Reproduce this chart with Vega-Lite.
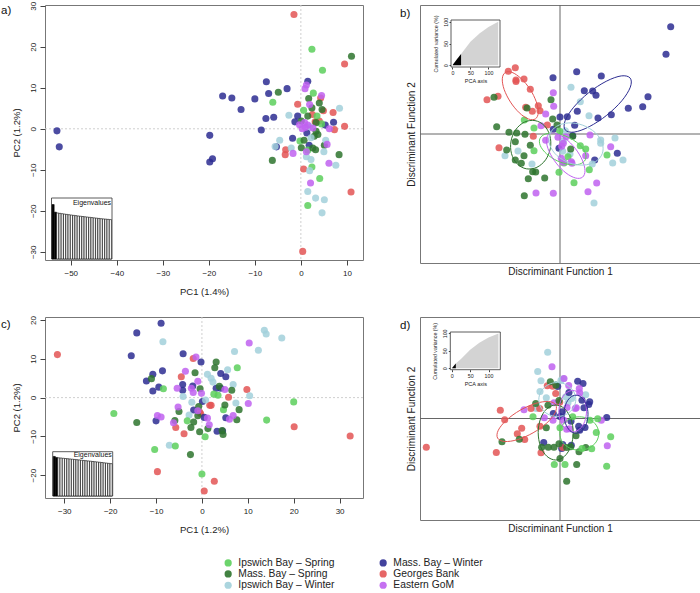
{
"$schema":"https://vega.github.io/schema/vega-lite/v6.json",
"background":"white",
"padding":{"left":0,"top":0,"right":0,"bottom":0},
"config":{
 "font":"Liberation Sans",
 "view":{"stroke":"#777","strokeWidth":1},
 "axis":{"domain":false,"grid":false,"labelFlush":false,"labelOverlap":false,"tickColor":"#444","labelColor":"#222","titleColor":"#222","titleFontWeight":"normal","labelFont":"Liberation Sans","titleFont":"Liberation Sans","minExtent":0},
 "axisY":{"minExtent":0},
 "title":{"font":"Liberation Sans","fontWeight":"normal"},
 "legend":{"orient":"none","legendX":178,"legendY":552.5,"columns":2,"symbolType":"circle","symbolSize":52,"symbolStrokeWidth":0,"symbolOpacity":0.9,"labelFontSize":10.3,"labelFont":"Liberation Sans","labelColor":"#222","labelOffset":5,"rowPadding":0.3,"columnPadding":43,"padding":0}
},
"datasets":{
 "ptsA":[
  {"g":"MBW","x":-53.0,"y":-0.5},{"g":"MBW","x":-52.5,"y":-4.4},{"g":"MBW","x":-19.8,"y":-1.6},{"g":"MBW","x":-19.8,"y":-8.1},{"g":"MBW","x":-19.2,"y":-7.3},{"g":"MBW","x":-17.0,"y":8.0},{"g":"MBW","x":-15.0,"y":7.5},{"g":"MBW","x":-13.0,"y":4.7},{"g":"MBW","x":-10.0,"y":7.3},{"g":"MBW","x":-7.5,"y":11.5},{"g":"MBW","x":-7.0,"y":8.6},{"g":"MBW","x":-3.0,"y":9.8},{"g":"MBW","x":-7.6,"y":2.5},{"g":"MBW","x":-5.9,"y":2.8},{"g":"MBW","x":-8.6,"y":-0.3},{"g":"MBW","x":-5.3,"y":-4.4},{"g":"MBW","x":-1.8,"y":-2.3},{"g":"MBW","x":1.5,"y":11.6},{"g":"MBW","x":-0.7,"y":3.1},{"g":"MBW","x":-1.3,"y":1.7},{"g":"MBW","x":1.8,"y":-4.0},{"g":"MBW","x":7.1,"y":1.6},{"g":"MBW","x":5.3,"y":0.9},{"g":"MBW","x":1.3,"y":-1.0},
  {"g":"GB","x":-1.5,"y":27.9},{"g":"GB","x":9.5,"y":15.8},{"g":"GB","x":4.3,"y":7.5},{"g":"GB","x":-0.7,"y":6.0},{"g":"GB","x":4.9,"y":4.4},{"g":"GB","x":7.0,"y":4.0},{"g":"GB","x":2.5,"y":3.5},{"g":"GB","x":3.1,"y":1.7},{"g":"GB","x":4.0,"y":1.9},{"g":"GB","x":9.5,"y":0.6},{"g":"GB","x":7.3,"y":-0.2},{"g":"GB","x":-3.3,"y":-5.1},{"g":"GB","x":-3.4,"y":-6.3},{"g":"GB","x":0.6,"y":-9.8},{"g":"GB","x":10.9,"y":-15.4},{"g":"GB","x":0.4,"y":-29.9},
  {"g":"IBS","x":2.4,"y":19.4},{"g":"IBS","x":4.7,"y":14.3},{"g":"IBS","x":2.7,"y":8.7},{"g":"IBS","x":-6.1,"y":6.5},{"g":"IBS","x":0.6,"y":4.5},{"g":"IBS","x":3.5,"y":3.1},{"g":"IBS","x":-0.2,"y":-3.0},{"g":"IBS","x":1.5,"y":-5.2},{"g":"IBS","x":2.4,"y":-9.3},{"g":"IBS","x":4.1,"y":-12.1},{"g":"IBS","x":1.5,"y":-18.7},{"g":"IBS","x":4.5,"y":1.2},
  {"g":"MBS","x":11.0,"y":17.7},{"g":"MBS","x":1.7,"y":7.4},{"g":"MBS","x":4.0,"y":6.3},{"g":"MBS","x":2.4,"y":5.1},{"g":"MBS","x":4.6,"y":4.7},{"g":"MBS","x":-4.9,"y":8.9},{"g":"MBS","x":1.5,"y":3.1},{"g":"MBS","x":0.1,"y":1.9},{"g":"MBS","x":3.3,"y":1.5},{"g":"MBS","x":3.3,"y":-0.6},{"g":"MBS","x":3.7,"y":-1.4},{"g":"MBS","x":2.9,"y":-1.8},{"g":"MBS","x":0.7,"y":-2.8},{"g":"MBS","x":5.1,"y":-4.0},{"g":"MBS","x":0.1,"y":-4.6},{"g":"MBS","x":3.2,"y":-5.1},{"g":"MBS","x":2.6,"y":-4.7},{"g":"MBS","x":8.3,"y":-6.3},{"g":"MBS","x":-6.2,"y":-7.7},
  {"g":"IBW","x":8.4,"y":5.0},{"g":"IBW","x":-2.6,"y":3.3},{"g":"IBW","x":2.2,"y":-2.2},{"g":"IBW","x":-4.6,"y":-2.8},{"g":"IBW","x":5.4,"y":-2.8},{"g":"IBW","x":-5.6,"y":-4.3},{"g":"IBW","x":-2.1,"y":-4.7},{"g":"IBW","x":5.0,"y":-5.6},{"g":"IBW","x":1.2,"y":-6.8},{"g":"IBW","x":2.2,"y":-7.5},{"g":"IBW","x":7.6,"y":-8.9},{"g":"IBW","x":1.9,"y":-10.2},{"g":"IBW","x":1.5,"y":-15.3},{"g":"IBW","x":3.2,"y":-16.9},{"g":"IBW","x":5.1,"y":-17.3},{"g":"IBW","x":4.6,"y":-20.5},{"g":"IBW","x":2.0,"y":0.5},
  {"g":"EG","x":1.2,"y":10.7},{"g":"EG","x":0.9,"y":9.8},{"g":"EG","x":4.5,"y":8.1},{"g":"EG","x":1.9,"y":5.9},{"g":"EG","x":-0.3,"y":1.0},{"g":"EG","x":0.8,"y":1.5},{"g":"EG","x":1.5,"y":0.9},{"g":"EG","x":2.6,"y":0.2},{"g":"EG","x":0.3,"y":0.0},{"g":"EG","x":6.2,"y":0.0},{"g":"EG","x":5.7,"y":-3.8},{"g":"EG","x":-1.7,"y":-6.0},{"g":"EG","x":1.2,"y":-5.6},{"g":"EG","x":6.1,"y":-8.4},{"g":"EG","x":2.1,"y":-13.2},{"g":"EG","x":1.0,"y":0.3}
 ],
 "ptsB":[
  {"g":"GB","x":-5.17,"y":6.27},{"g":"GB","x":-4.47,"y":6.63},{"g":"GB","x":-4.4,"y":5.4},{"g":"GB","x":-4.4,"y":5.25},{"g":"GB","x":-3.6,"y":5.5},{"g":"GB","x":-2.97,"y":4.47},{"g":"GB","x":-7.3,"y":3.43},{"g":"GB","x":-6.2,"y":3.77},{"g":"GB","x":-3.43,"y":2.67},{"g":"GB","x":-2.17,"y":2.83},{"g":"GB","x":-2.77,"y":2.27},{"g":"GB","x":-2.0,"y":2.33},{"g":"GB","x":-1.27,"y":0.9},{"g":"GB","x":-2.67,"y":-0.23},{"g":"GB","x":-6.1,"y":-1.37},
  {"g":"MBW","x":-0.7,"y":5.63},{"g":"MBW","x":1.67,"y":6.23},{"g":"MBW","x":4.13,"y":5.8},{"g":"MBW","x":2.43,"y":4.33},{"g":"MBW","x":3.27,"y":4.3},{"g":"MBW","x":3.6,"y":3.87},{"g":"MBW","x":1.73,"y":2.27},{"g":"MBW","x":3.8,"y":1.6},{"g":"MBW","x":5.13,"y":1.93},{"g":"MBW","x":6.83,"y":2.57},{"g":"MBW","x":0.73,"y":1.73},{"g":"MBW","x":0.0,"y":1.7},{"g":"MBW","x":1.47,"y":0.87},{"g":"MBW","x":1.27,"y":-0.17},{"g":"MBW","x":-0.1,"y":-1.43},{"g":"MBW","x":5.73,"y":-1.93},{"g":"MBW","x":3.47,"y":-2.6},{"g":"MBW","x":11.07,"y":10.73},{"g":"MBW","x":10.6,"y":7.97},{"g":"MBW","x":8.8,"y":3.73},{"g":"MBW","x":8.27,"y":2.73},{"g":"MBW","x":-0.67,"y":0.47},
  {"g":"IBW","x":1.1,"y":4.67},{"g":"IBW","x":2.03,"y":3.23},{"g":"IBW","x":2.9,"y":1.83},{"g":"IBW","x":5.5,"y":-0.4},{"g":"IBW","x":4.07,"y":-0.6},{"g":"IBW","x":4.07,"y":-0.93},{"g":"IBW","x":5.27,"y":-2.9},{"g":"IBW","x":6.3,"y":-2.6},{"g":"IBW","x":3.23,"y":-3.0},{"g":"IBW","x":0.33,"y":-0.7},{"g":"IBW","x":0.27,"y":-1.73},{"g":"IBW","x":-5.5,"y":-2.17},{"g":"IBW","x":-4.2,"y":-1.7},{"g":"IBW","x":-2.8,"y":-3.0},{"g":"IBW","x":3.4,"y":-6.9},{"g":"IBW","x":0.53,"y":0.33},{"g":"IBW","x":1.0,"y":-2.0},
  {"g":"MBS","x":-6.6,"y":3.67},{"g":"MBS","x":-0.9,"y":3.43},{"g":"MBS","x":-3.3,"y":2.6},{"g":"MBS","x":-0.73,"y":1.5},{"g":"MBS","x":-6.33,"y":0.73},{"g":"MBS","x":-5.1,"y":0.17},{"g":"MBS","x":-4.33,"y":0.1},{"g":"MBS","x":-3.5,"y":-0.03},{"g":"MBS","x":-4.47,"y":-0.77},{"g":"MBS","x":-2.97,"y":-1.13},{"g":"MBS","x":-5.33,"y":-1.6},{"g":"MBS","x":-3.6,"y":-2.17},{"g":"MBS","x":-4.47,"y":-2.6},{"g":"MBS","x":-3.87,"y":-2.93},{"g":"MBS","x":-2.73,"y":-3.77},{"g":"MBS","x":-2.43,"y":-3.8},{"g":"MBS","x":-3.17,"y":-4.47},{"g":"MBS","x":-1.53,"y":-4.4},{"g":"MBS","x":-3.57,"y":-6.17},{"g":"MBS","x":1.07,"y":-1.5},{"g":"MBS","x":-0.3,"y":0.9},{"g":"MBS","x":1.27,"y":-0.23},
  {"g":"IBS","x":-3.57,"y":1.4},{"g":"IBS","x":-2.6,"y":0.6},{"g":"IBS","x":-0.03,"y":0.27},{"g":"IBS","x":-2.6,"y":-1.67},{"g":"IBS","x":2.03,"y":-1.17},{"g":"IBS","x":2.57,"y":-1.5},{"g":"IBS","x":4.7,"y":-2.1},{"g":"IBS","x":2.93,"y":-3.57},{"g":"IBS","x":1.4,"y":-4.87},{"g":"IBS","x":-0.1,"y":-3.83},{"g":"IBS","x":0.8,"y":-2.27},{"g":"IBS","x":0.4,"y":-2.9},
  {"g":"EG","x":-0.67,"y":4.13},{"g":"EG","x":-0.63,"y":2.77},{"g":"EG","x":-1.43,"y":2.0},{"g":"EG","x":-1.9,"y":0.83},{"g":"EG","x":-1.43,"y":-0.63},{"g":"EG","x":-0.2,"y":-0.33},{"g":"EG","x":0.6,"y":-0.27},{"g":"EG","x":3.0,"y":-0.1},{"g":"EG","x":5.07,"y":-1.27},{"g":"EG","x":0.17,"y":-1.23},{"g":"EG","x":0.13,"y":-2.43},{"g":"EG","x":0.33,"y":-2.83},{"g":"EG","x":1.13,"y":-2.77},{"g":"EG","x":1.2,"y":-2.93},{"g":"EG","x":2.57,"y":-2.17},{"g":"EG","x":3.67,"y":-4.9},{"g":"EG","x":2.8,"y":-5.77},{"g":"EG","x":-2.4,"y":-5.9},{"g":"EG","x":-0.67,"y":-5.93},{"g":"EG","x":0.33,"y":-0.93}
 ],
 "ptsC":[
  {"g":"GB","x":-31.5,"y":11.1},{"g":"GB","x":-1.9,"y":10.1},{"g":"GB","x":-4.5,"y":5.4},{"g":"GB","x":-0.5,"y":-3.8},{"g":"GB","x":2.0,"y":-2.0},{"g":"GB","x":1.7,"y":-2.0},{"g":"GB","x":5.8,"y":0.1},{"g":"GB","x":9.8,"y":2.1},{"g":"GB","x":20.1,"y":-7.5},{"g":"GB","x":32.3,"y":-9.9},{"g":"GB","x":-5.7,"y":-7.7},{"g":"GB","x":-3.9,"y":-9.3},{"g":"GB","x":-9.7,"y":-19.1},{"g":"GB","x":2.7,"y":-21.6},{"g":"GB","x":0.5,"y":-24.1},{"g":"GB","x":-0.3,"y":-4.1},
  {"g":"MBW","x":-8.9,"y":19.2},{"g":"MBW","x":-14.2,"y":16.7},{"g":"MBW","x":-15.4,"y":10.8},{"g":"MBW","x":-4.1,"y":11.3},{"g":"MBW","x":-0.2,"y":9.2},{"g":"MBW","x":-10.7,"y":6.0},{"g":"MBW","x":-12.1,"y":4.3},{"g":"MBW","x":-8.6,"y":6.9},{"g":"MBW","x":-9.4,"y":2.7},{"g":"MBW","x":-10.7,"y":1.7},{"g":"MBW","x":-4.2,"y":3.4},{"g":"MBW","x":-4.2,"y":1.9},{"g":"MBW","x":-2.0,"y":3.0},{"g":"MBW","x":4.1,"y":6.2},{"g":"MBW","x":5.2,"y":5.4},{"g":"MBW","x":3.1,"y":2.4},{"g":"MBW","x":4.1,"y":2.4},{"g":"MBW","x":0.1,"y":-1.0},{"g":"MBW","x":-1.8,"y":-3.2},{"g":"MBW","x":0.5,"y":-5.1},{"g":"MBW","x":-10.0,"y":-6.0},{"g":"MBW","x":5.2,"y":-5.2},{"g":"MBW","x":3.3,"y":-8.7},{"g":"MBW","x":4.5,"y":-8.6},
  {"g":"IBW","x":-8.5,"y":14.4},{"g":"IBW","x":13.6,"y":17.4},{"g":"IBW","x":14.0,"y":16.4},{"g":"IBW","x":17.4,"y":15.4},{"g":"IBW","x":12.3,"y":12.2},{"g":"IBW","x":7.1,"y":11.9},{"g":"IBW","x":1.2,"y":6.0},{"g":"IBW","x":2.0,"y":5.0},{"g":"IBW","x":2.4,"y":4.0},{"g":"IBW","x":5.6,"y":7.2},{"g":"IBW","x":6.8,"y":3.4},{"g":"IBW","x":7.4,"y":-1.4},{"g":"IBW","x":10.4,"y":0.5},{"g":"IBW","x":-4.1,"y":0.3},{"g":"IBW","x":-2.2,"y":-1.2},{"g":"IBW","x":0.8,"y":-0.6},{"g":"IBW","x":-2.8,"y":-4.5},{"g":"IBW","x":-7.1,"y":-12.3},
  {"g":"IBS","x":-19.2,"y":-4.1},{"g":"IBS","x":-8.4,"y":2.3},{"g":"IBS","x":7.7,"y":7.7},{"g":"IBS","x":3.5,"y":0.6},{"g":"IBS","x":4.7,"y":-3.1},{"g":"IBS","x":-3.2,"y":-6.0},{"g":"IBS","x":-5.8,"y":-12.5},{"g":"IBS","x":-10.3,"y":-13.4},{"g":"IBS","x":0.7,"y":-10.1},{"g":"IBS","x":0.0,"y":-19.7},{"g":"IBS","x":20.0,"y":-1.1},{"g":"IBS","x":14.1,"y":-5.8},{"g":"IBS","x":2.6,"y":0.9},
  {"g":"MBS","x":-11.0,"y":4.9},{"g":"MBS","x":-14.2,"y":-6.4},{"g":"MBS","x":-1.5,"y":6.4},{"g":"MBS","x":-0.4,"y":2.3},{"g":"MBS","x":3.1,"y":9.2},{"g":"MBS","x":2.8,"y":7.7},{"g":"MBS","x":3.8,"y":2.9},{"g":"MBS","x":6.5,"y":1.9},{"g":"MBS","x":5.0,"y":-1.9},{"g":"MBS","x":8.1,"y":-3.1},{"g":"MBS","x":7.6,"y":-5.7},{"g":"MBS","x":-0.7,"y":-2.3},{"g":"MBS","x":-0.9,"y":-4.7},{"g":"MBS","x":-5.0,"y":-3.6},{"g":"MBS","x":-5.9,"y":-5.9},{"g":"MBS","x":-1.8,"y":-6.3},{"g":"MBS","x":-2.4,"y":-7.7},{"g":"MBS","x":-0.5,"y":-8.8},{"g":"MBS","x":1.3,"y":-8.0},{"g":"MBS","x":4.4,"y":-8.5},{"g":"MBS","x":4.6,"y":-9.5},{"g":"MBS","x":-2.5,"y":-14.7},
  {"g":"EG","x":-1.3,"y":10.5},{"g":"EG","x":-3.6,"y":6.8},{"g":"EG","x":-5.4,"y":2.4},{"g":"EG","x":-0.9,"y":4.2},{"g":"EG","x":-2.3,"y":2.4},{"g":"EG","x":-1.9,"y":1.3},{"g":"EG","x":-0.1,"y":1.1},{"g":"EG","x":5.0,"y":2.1},{"g":"EG","x":10.3,"y":14.1},{"g":"EG","x":10.1,"y":-1.5},{"g":"EG","x":-5.2,"y":-2.4},{"g":"EG","x":-9.7,"y":-4.6},{"g":"EG","x":-8.9,"y":-5.0},{"g":"EG","x":-6.2,"y":-6.5},{"g":"EG","x":-0.9,"y":-3.4},{"g":"EG","x":1.2,"y":-5.3},{"g":"EG","x":1.6,"y":-7.0},{"g":"EG","x":6.0,"y":-5.6},{"g":"EG","x":6.8,"y":-4.6}
 ],
 "ptsD":[
  {"g":"IBW","x":-1.23,"y":6.63},{"g":"IBW","x":-2.23,"y":4.7},{"g":"IBW","x":-1.9,"y":3.77},{"g":"IBW","x":-2.0,"y":2.7},{"g":"IBW","x":-0.43,"y":3.4},{"g":"IBW","x":0.33,"y":3.97},{"g":"IBW","x":0.57,"y":2.17},{"g":"IBW","x":1.17,"y":2.0},{"g":"IBW","x":2.57,"y":2.37},{"g":"IBW","x":-2.37,"y":1.0},{"g":"IBW","x":-1.37,"y":2.07},{"g":"IBW","x":0.8,"y":1.57},{"g":"IBW","x":0.1,"y":3.83},
  {"g":"MBW","x":1.77,"y":3.73},{"g":"MBW","x":2.3,"y":3.5},{"g":"MBW","x":0.9,"y":2.6},{"g":"MBW","x":2.2,"y":1.83},{"g":"MBW","x":2.97,"y":1.67},{"g":"MBW","x":2.87,"y":1.4},{"g":"MBW","x":2.4,"y":1.07},{"g":"MBW","x":4.67,"y":0.1},{"g":"MBW","x":0.23,"y":0.67},{"g":"MBW","x":-0.67,"y":0.5},{"g":"MBW","x":1.1,"y":-0.27},{"g":"MBW","x":1.87,"y":-0.77},{"g":"MBW","x":1.97,"y":-1.17},{"g":"MBW","x":2.5,"y":-0.9},{"g":"MBW","x":0.27,"y":-2.6},{"g":"MBW","x":0.17,"y":-3.0},{"g":"MBW","x":-1.63,"y":-2.4},{"g":"MBW","x":1.13,"y":-2.67},{"g":"MBW","x":-0.23,"y":3.2},{"g":"MBW","x":0.0,"y":0.2},
  {"g":"EG","x":-0.8,"y":5.17},{"g":"EG","x":0.4,"y":4.0},{"g":"EG","x":0.87,"y":3.3},{"g":"EG","x":1.93,"y":3.0},{"g":"EG","x":1.97,"y":2.57},{"g":"EG","x":-3.6,"y":0.87},{"g":"EG","x":-0.6,"y":1.57},{"g":"EG","x":-0.7,"y":-0.17},{"g":"EG","x":0.4,"y":-0.17},{"g":"EG","x":1.53,"y":1.0},{"g":"EG","x":0.67,"y":-1.07},{"g":"EG","x":4.13,"y":-0.17},{"g":"EG","x":4.73,"y":-2.73},{"g":"EG","x":-1.57,"y":0.07},{"g":"EG","x":0.7,"y":1.1},{"g":"EG","x":0.97,"y":-1.03},{"g":"EG","x":1.63,"y":1.07},
  {"g":"GB","x":-13.37,"y":-2.87},{"g":"GB","x":-6.37,"y":-3.4},{"g":"GB","x":-5.97,"y":0.83},{"g":"GB","x":-5.53,"y":-0.13},{"g":"GB","x":-3.83,"y":-0.97},{"g":"GB","x":-4.27,"y":-1.53},{"g":"GB","x":-3.53,"y":-2.1},{"g":"GB","x":-1.9,"y":-3.43},{"g":"GB","x":-2.9,"y":1.0},{"g":"GB","x":-2.03,"y":1.0},{"g":"GB","x":-2.0,"y":-0.77},{"g":"GB","x":-1.27,"y":3.27},{"g":"GB","x":-0.73,"y":3.23},{"g":"GB","x":-0.43,"y":2.5},{"g":"GB","x":-0.03,"y":1.63},{"g":"GB","x":0.27,"y":-2.9},
  {"g":"MBS","x":-0.97,"y":3.67},{"g":"MBS","x":-0.4,"y":3.33},{"g":"MBS","x":-2.43,"y":1.5},{"g":"MBS","x":-1.2,"y":1.33},{"g":"MBS","x":-1.37,"y":-0.93},{"g":"MBS","x":-4.07,"y":-2.07},{"g":"MBS","x":-5.8,"y":-2.33},{"g":"MBS","x":-1.83,"y":-2.87},{"g":"MBS","x":-1.17,"y":-2.87},{"g":"MBS","x":-0.6,"y":-2.87},{"g":"MBS","x":-0.1,"y":-2.53},{"g":"MBS","x":0.67,"y":-2.9},{"g":"MBS","x":1.07,"y":-2.83},{"g":"MBS","x":1.6,"y":-1.73},{"g":"MBS","x":2.57,"y":-2.9},{"g":"MBS","x":1.9,"y":-3.33},{"g":"MBS","x":1.67,"y":-4.6},{"g":"MBS","x":0.0,"y":-4.0},{"g":"MBS","x":0.67,"y":-6.27},{"g":"MBS","x":-0.1,"y":1.8},
  {"g":"IBS","x":-2.7,"y":0.17},{"g":"IBS","x":1.27,"y":0.17},{"g":"IBS","x":3.0,"y":-0.17},{"g":"IBS","x":3.77,"y":-0.03},{"g":"IBS","x":3.63,"y":-1.4},{"g":"IBS","x":5.07,"y":-1.83},{"g":"IBS","x":4.67,"y":-4.77},{"g":"IBS","x":3.17,"y":-3.03},{"g":"IBS","x":-0.57,"y":-4.6},{"g":"IBS","x":0.0,"y":-0.93},{"g":"IBS","x":2.2,"y":-3.0},{"g":"IBS","x":0.5,"y":-4.6}
 ],
 "ellB":[
  {"g":"GB","i":0,"x":-2.46,"y":1.51},{"g":"GB","i":1,"x":-2.17,"y":2.14},{"g":"GB","i":2,"x":-2.37,"y":3.22},{"g":"GB","i":3,"x":-2.99,"y":4.47},{"g":"GB","i":4,"x":-3.88,"y":5.54},{"g":"GB","i":5,"x":-4.79,"y":6.16},{"g":"GB","i":6,"x":-5.48,"y":6.15},{"g":"GB","i":7,"x":-5.77,"y":5.52},{"g":"GB","i":8,"x":-5.58,"y":4.44},{"g":"GB","i":9,"x":-4.95,"y":3.19},{"g":"GB","i":10,"x":-4.07,"y":2.12},{"g":"GB","i":11,"x":-3.15,"y":1.5},
  {"g":"MBW","i":0,"x":7.02,"y":5.59},{"g":"MBW","i":1,"x":6.13,"y":5.81},{"g":"MBW","i":2,"x":4.62,"y":5.27},{"g":"MBW","i":3,"x":2.87,"y":4.13},{"g":"MBW","i":4,"x":1.37,"y":2.68},{"g":"MBW","i":5,"x":0.51,"y":1.32},{"g":"MBW","i":6,"x":0.52,"y":0.41},{"g":"MBW","i":7,"x":1.41,"y":0.19},{"g":"MBW","i":8,"x":2.92,"y":0.73},{"g":"MBW","i":9,"x":4.67,"y":1.87},{"g":"MBW","i":10,"x":6.18,"y":3.32},{"g":"MBW","i":11,"x":7.03,"y":4.68},
  {"g":"MBS","i":0,"x":-2.5,"y":1.34},{"g":"MBS","i":1,"x":-3.55,"y":1.19},{"g":"MBS","i":2,"x":-4.42,"y":0.44},{"g":"MBS","i":3,"x":-4.9,"y":-0.72},{"g":"MBS","i":4,"x":-4.85,"y":-1.97},{"g":"MBS","i":5,"x":-4.28,"y":-2.99},{"g":"MBS","i":6,"x":-3.36,"y":-3.48},{"g":"MBS","i":7,"x":-2.31,"y":-3.33},{"g":"MBS","i":8,"x":-1.44,"y":-2.58},{"g":"MBS","i":9,"x":-0.96,"y":-1.42},{"g":"MBS","i":10,"x":-1.01,"y":-0.17},{"g":"MBS","i":11,"x":-1.58,"y":0.85},
  {"g":"IBS","i":0,"x":2.54,"y":-2.56},{"g":"IBS","i":1,"x":2.51,"y":-1.83},{"g":"IBS","i":2,"x":1.88,"y":-1.01},{"g":"IBS","i":3,"x":0.82,"y":-0.32},{"g":"IBS","i":4,"x":-0.39,"y":0.05},{"g":"IBS","i":5,"x":-1.42,"y":0.01},{"g":"IBS","i":6,"x":-2.0,"y":-0.44},{"g":"IBS","i":7,"x":-1.97,"y":-1.17},{"g":"IBS","i":8,"x":-1.34,"y":-1.99},{"g":"IBS","i":9,"x":-0.28,"y":-2.68},{"g":"IBS","i":10,"x":0.93,"y":-3.05},{"g":"IBS","i":11,"x":1.96,"y":-3.01},
  {"g":"EG","i":0,"x":2.25,"y":-4.32},{"g":"EG","i":1,"x":2.5,"y":-3.66},{"g":"EG","i":2,"x":2.23,"y":-2.61},{"g":"EG","i":3,"x":1.52,"y":-1.43},{"g":"EG","i":4,"x":0.55,"y":-0.46},{"g":"EG","i":5,"x":-0.41,"y":0.06},{"g":"EG","i":6,"x":-1.11,"y":-0.02},{"g":"EG","i":7,"x":-1.36,"y":-0.68},{"g":"EG","i":8,"x":-1.09,"y":-1.74},{"g":"EG","i":9,"x":-0.38,"y":-2.91},{"g":"EG","i":10,"x":0.59,"y":-3.89},{"g":"EG","i":11,"x":1.55,"y":-4.4},
  {"g":"IBW","i":0,"x":4.23,"y":-1.96},{"g":"IBW","i":1,"x":4.22,"y":-0.89},{"g":"IBW","i":2,"x":3.51,"y":0.15},{"g":"IBW","i":3,"x":2.28,"y":0.88},{"g":"IBW","i":4,"x":0.88,"y":1.11},{"g":"IBW","i":5,"x":-0.34,"y":0.77},{"g":"IBW","i":6,"x":-1.03,"y":-0.04},{"g":"IBW","i":7,"x":-1.02,"y":-1.11},{"g":"IBW","i":8,"x":-0.31,"y":-2.15},{"g":"IBW","i":9,"x":0.92,"y":-2.88},{"g":"IBW","i":10,"x":2.32,"y":-3.11},{"g":"IBW","i":11,"x":3.54,"y":-2.77}
 ],
 "ellD":[
  {"g":"GB","i":0,"x":-0.42,"y":1.36},{"g":"GB","i":1,"x":-1.13,"y":1.7},{"g":"GB","i":2,"x":-2.43,"y":1.51},{"g":"GB","i":3,"x":-3.98,"y":0.83},{"g":"GB","i":4,"x":-5.34,"y":-0.15},{"g":"GB","i":5,"x":-6.17,"y":-1.17},{"g":"GB","i":6,"x":-6.24,"y":-1.96},{"g":"GB","i":7,"x":-5.53,"y":-2.3},{"g":"GB","i":8,"x":-4.23,"y":-2.11},{"g":"GB","i":9,"x":-2.69,"y":-1.43},{"g":"GB","i":10,"x":-1.32,"y":-0.45},{"g":"GB","i":11,"x":-0.49,"y":0.58},
  {"g":"MBS","i":0,"x":-0.43,"y":1.35},{"g":"MBS","i":1,"x":-1.31,"y":0.98},{"g":"MBS","i":2,"x":-1.95,"y":-0.03},{"g":"MBS","i":3,"x":-2.18,"y":-1.4},{"g":"MBS","i":4,"x":-1.95,"y":-2.78},{"g":"MBS","i":5,"x":-1.31,"y":-3.78},{"g":"MBS","i":6,"x":-0.43,"y":-4.15},{"g":"MBS","i":7,"x":0.45,"y":-3.78},{"g":"MBS","i":8,"x":1.09,"y":-2.78},{"g":"MBS","i":9,"x":1.32,"y":-1.4},{"g":"MBS","i":10,"x":1.09,"y":-0.03},{"g":"MBS","i":11,"x":0.45,"y":0.98},
  {"g":"IBS","i":0,"x":3.88,"y":-1.5},{"g":"IBS","i":1,"x":3.62,"y":-0.67},{"g":"IBS","i":2,"x":2.91,"y":-0.05},{"g":"IBS","i":3,"x":1.93,"y":0.17},{"g":"IBS","i":4,"x":0.96,"y":-0.05},{"g":"IBS","i":5,"x":0.24,"y":-0.67},{"g":"IBS","i":6,"x":-0.02,"y":-1.5},{"g":"IBS","i":7,"x":0.24,"y":-2.34},{"g":"IBS","i":8,"x":0.96,"y":-2.95},{"g":"IBS","i":9,"x":1.93,"y":-3.17},{"g":"IBS","i":10,"x":2.91,"y":-2.95},{"g":"IBS","i":11,"x":3.62,"y":-2.34},
  {"g":"IBW","i":0,"x":1.58,"y":1.9},{"g":"IBW","i":1,"x":1.33,"y":2.75},{"g":"IBW","i":2,"x":0.66,"y":3.37},{"g":"IBW","i":3,"x":-0.27,"y":3.6},{"g":"IBW","i":4,"x":-1.2,"y":3.37},{"g":"IBW","i":5,"x":-1.87,"y":2.75},{"g":"IBW","i":6,"x":-2.12,"y":1.9},{"g":"IBW","i":7,"x":-1.87,"y":1.05},{"g":"IBW","i":8,"x":-1.2,"y":0.43},{"g":"IBW","i":9,"x":-0.27,"y":0.2},{"g":"IBW","i":10,"x":0.66,"y":0.43},{"g":"IBW","i":11,"x":1.33,"y":1.05},
  {"g":"EG","i":0,"x":2.65,"y":0.73},{"g":"EG","i":1,"x":2.47,"y":1.77},{"g":"EG","i":2,"x":1.96,"y":2.52},{"g":"EG","i":3,"x":1.27,"y":2.8},{"g":"EG","i":4,"x":0.58,"y":2.52},{"g":"EG","i":5,"x":0.07,"y":1.77},{"g":"EG","i":6,"x":-0.11,"y":0.73},{"g":"EG","i":7,"x":0.07,"y":-0.31},{"g":"EG","i":8,"x":0.58,"y":-1.06},{"g":"EG","i":9,"x":1.27,"y":-1.34},{"g":"EG","i":10,"x":1.96,"y":-1.06},{"g":"EG","i":11,"x":2.47,"y":-0.31},
  {"g":"MBW","i":0,"x":2.8,"y":0.43},{"g":"MBW","i":1,"x":2.64,"y":1.38},{"g":"MBW","i":2,"x":2.2,"y":2.08},{"g":"MBW","i":3,"x":1.6,"y":2.33},{"g":"MBW","i":4,"x":1.0,"y":2.08},{"g":"MBW","i":5,"x":0.56,"y":1.38},{"g":"MBW","i":6,"x":0.4,"y":0.43},{"g":"MBW","i":7,"x":0.56,"y":-0.52},{"g":"MBW","i":8,"x":1.0,"y":-1.22},{"g":"MBW","i":9,"x":1.6,"y":-1.47},{"g":"MBW","i":10,"x":2.2,"y":-1.22},{"g":"MBW","i":11,"x":2.64,"y":-0.52}
 ],
 "eigA":[
  {"i":1,"v":100,"r":1},{"i":2,"v":86,"r":1},{"i":3,"v":84.5,"r":0},{"i":4,"v":83.8,"r":0},{"i":5,"v":83.2,"r":0},{"i":6,"v":82.5,"r":0},{"i":7,"v":81.9,"r":0},{"i":8,"v":81.3,"r":0},{"i":9,"v":80.7,"r":0},{"i":10,"v":80.1,"r":0},{"i":11,"v":79.6,"r":0},{"i":12,"v":79.0,"r":0},{"i":13,"v":78.5,"r":0},{"i":14,"v":78.0,"r":0},{"i":15,"v":77.5,"r":0},{"i":16,"v":77.0,"r":0},{"i":17,"v":76.5,"r":0},{"i":18,"v":76.0,"r":0},{"i":19,"v":75.5,"r":0},{"i":20,"v":75.0,"r":0},{"i":21,"v":74.5,"r":0},{"i":22,"v":74.0,"r":0},{"i":23,"v":73.6,"r":0},{"i":24,"v":73.2,"r":0},{"i":25,"v":72.8,"r":0},{"i":26,"v":72.4,"r":0}
 ],
 "eigC":[
  {"i":1,"v":100,"r":1},{"i":2,"v":97.5,"r":1},{"i":3,"v":96.5,"r":0},{"i":4,"v":96.0,"r":0},{"i":5,"v":95.4,"r":0},{"i":6,"v":94.8,"r":0},{"i":7,"v":94.2,"r":0},{"i":8,"v":93.6,"r":0},{"i":9,"v":93.0,"r":0},{"i":10,"v":92.4,"r":0},{"i":11,"v":91.8,"r":0},{"i":12,"v":91.2,"r":0},{"i":13,"v":90.5,"r":0},{"i":14,"v":89.9,"r":0},{"i":15,"v":89.2,"r":0},{"i":16,"v":88.6,"r":0},{"i":17,"v":88.0,"r":0},{"i":18,"v":87.3,"r":0},{"i":19,"v":86.6,"r":0},{"i":20,"v":86.0,"r":0},{"i":21,"v":85.3,"r":0},{"i":22,"v":84.6,"r":0},{"i":23,"v":83.9,"r":0},{"i":24,"v":83.2,"r":0},{"i":25,"v":82.5,"r":0},{"i":26,"v":81.8,"r":0}
 ],
 "cumB":[{"x":1,"y":1},{"x":12,"y":13},{"x":24,"y":26},{"x":50,"y":54},{"x":75,"y":73},{"x":100,"y":88},{"x":127,"y":100}],
 "cumBk":[{"x":1,"y":1},{"x":12,"y":13},{"x":24,"y":26}],
 "cumD":[{"x":1,"y":1},{"x":11,"y":14},{"x":25,"y":27},{"x":50,"y":53},{"x":75,"y":73},{"x":100,"y":88},{"x":127,"y":100}],
 "cumDk":[{"x":1,"y":1},{"x":11,"y":14}]
},
"columns":2,
"spacing":{"row":54,"column":57},
"bounds":"flush",
"align":"each",
"resolve":{"scale":{"color":"shared"},"legend":{"color":"shared"}},
"concat":[
 {
  "width":318,"height":255,
  "title":{"text":"a)","anchor":"start","frame":"group","orient":"top","offset":0,"dx":-44,"dy":24,"baseline":"alphabetic","fontSize":11.5,"color":"#111"},
  "layer":[
   {"layer":[
     {"data":{"values":[{}]},"mark":{"type":"rule","color":"#cfcfcf","strokeDash":[2,2],"strokeWidth":1},"encoding":{"y":{"datum":0,"type":"quantitative","scale":{"domain":[-32,30.2],"nice":false,"zero":false}}}},
     {"data":{"values":[{}]},"mark":{"type":"rule","color":"#cfcfcf","strokeDash":[2,2],"strokeWidth":1},"encoding":{"x":{"datum":0,"type":"quantitative","scale":{"domain":[-55.6,13.5],"nice":false,"zero":false}}}},
     {"data":{"name":"ptsA"},"mark":{"type":"circle","size":50,"opacity":0.85},
      "encoding":{
       "x":{"field":"x","type":"quantitative","scale":{"domain":[-55.6,13.5],"nice":false,"zero":false},"axis":{"title":"PC1 (1.4%)","values":[-50,-40,-30,-20,-10,0,10],"tickSize":5,"labelPadding":4,"titlePadding":9,"labelFontSize":8,"titleFontSize":9.5}},
       "y":{"field":"y","type":"quantitative","scale":{"domain":[-32,30.2],"nice":false,"zero":false},"axis":{"title":"PC2 (1.2%)","values":[-30,-20,-10,0,10,20,30],"tickSize":5,"labelPadding":3,"labelAngle":-90,"labelAlign":"center","labelBaseline":"bottom","titlePadding":8,"labelFontSize":8,"titleFontSize":9.5}},
       "color":{"field":"g","type":"nominal","scale":{"domain":["IBS","MBS","IBW","MBW","GB","EG"],"range":["#5ccf5c","#2e742e","#a2d0da","#2d2d92","#e35555","#bf62f0"]},"legend":{"title":null,"labelExpr":"{'IBS':'Ipswich Bay – Spring','MBS':'Mass. Bay – Spring','IBW':'Ipswich Bay – Winter','MBW':'Mass. Bay – Winter','GB':'Georges Bank','EG':'Eastern GoM'}[datum.label]"}}
      }}
   ]},
   {"layer":[
     {"data":{"values":[{}]},"mark":{"type":"rect","fill":"white","stroke":"#333","strokeWidth":0.8},
      "encoding":{"x":{"datum":0.3,"type":"quantitative","scale":{"domain":[0.3,26.7],"range":[1.5,72],"nice":false,"zero":false},"axis":null},"x2":{"datum":26.7},"y":{"datum":0,"type":"quantitative","scale":{"domain":[0,112],"range":[254,193],"nice":false,"zero":false},"axis":null},"y2":{"datum":112}}},
     {"data":{"name":"eigA"},"mark":{"type":"bar","orient":"vertical","width":2.1,"stroke":"black","strokeWidth":0.6},
      "encoding":{"x":{"field":"i","type":"quantitative","scale":{"domain":[0.3,26.7],"range":[1.5,72],"nice":false,"zero":false},"axis":null},"y":{"field":"v","type":"quantitative","scale":{"domain":[0,112],"range":[254,193],"nice":false,"zero":false},"axis":null},"y2":{"datum":0},"fill":{"condition":{"test":"datum.r == 1","value":"black"},"value":"white"}}},
     {"data":{"values":[{}]},"mark":{"type":"text","text":"Eigenvalues","align":"right","baseline":"middle","fontSize":7,"color":"#111"},
      "encoding":{"x":{"datum":26.3,"type":"quantitative","scale":{"domain":[0.3,26.7],"range":[1.5,72],"nice":false,"zero":false},"axis":null},"y":{"datum":103.4,"type":"quantitative","scale":{"domain":[0,112],"range":[254,193],"nice":false,"zero":false},"axis":null}}}
   ]}
  ],
  "resolve":{"scale":{"x":"independent","y":"independent"}}
 },
 {
  "width":280,"height":258,
  "title":{"text":"b)","anchor":"start","frame":"group","orient":"top","offset":0,"dx":-20,"dy":24,"baseline":"alphabetic","fontSize":11.5,"color":"#111"},
  "layer":[
   {"layer":[
     {"data":{"values":[{}]},"mark":{"type":"rule","color":"#666","strokeWidth":1},"encoding":{"y":{"datum":0,"type":"quantitative","scale":{"domain":[-12.9,12.9],"nice":false,"zero":false}}}},
     {"data":{"values":[{}]},"mark":{"type":"rule","color":"#666","strokeWidth":1},"encoding":{"x":{"datum":0,"type":"quantitative","scale":{"domain":[-14,14],"nice":false,"zero":false}}}},
     {"data":{"name":"ptsB"},"mark":{"type":"circle","size":50,"opacity":0.85},
      "encoding":{
       "x":{"field":"x","type":"quantitative","scale":{"domain":[-14,14],"nice":false,"zero":false},"axis":{"title":"Discriminant Function 1","ticks":false,"labels":false,"titlePadding":3,"titleFontSize":10}},
       "y":{"field":"y","type":"quantitative","scale":{"domain":[-12.9,12.9],"nice":false,"zero":false},"axis":{"title":"Discriminant Function 2","ticks":false,"labels":false,"titlePadding":4,"titleFontSize":10}},
       "color":{"field":"g","type":"nominal","scale":{"domain":["IBS","MBS","IBW","MBW","GB","EG"],"range":["#5ccf5c","#2e742e","#a2d0da","#2d2d92","#e35555","#bf62f0"]},"legend":{"title":null,"labelExpr":"{'IBS':'Ipswich Bay – Spring','MBS':'Mass. Bay – Spring','IBW':'Ipswich Bay – Winter','MBW':'Mass. Bay – Winter','GB':'Georges Bank','EG':'Eastern GoM'}[datum.label]"}}
      }},
     {"data":{"name":"ellB"},"mark":{"type":"line","interpolate":"cardinal-closed","strokeWidth":1},
      "encoding":{
       "x":{"field":"x","type":"quantitative","scale":{"domain":[-14,14],"nice":false,"zero":false}},
       "y":{"field":"y","type":"quantitative","scale":{"domain":[-12.9,12.9],"nice":false,"zero":false}},
       "order":{"field":"i","type":"quantitative"},
       "color":{"field":"g","type":"nominal","scale":{"domain":["IBS","MBS","IBW","MBW","GB","EG"],"range":["#5ccf5c","#2e742e","#a2d0da","#2d2d92","#e35555","#bf62f0"]},"legend":null}
      }}
   ]},
   {"layer":[
     {"data":{"values":[{}]},"mark":{"type":"rect","fill":"white","stroke":"#333","strokeWidth":0.8},
      "encoding":{
       "x":{"datum":-4,"type":"quantitative","scale":{"domain":[-4,132],"range":[31,80],"nice":false,"zero":false},"axis":{"orient":"bottom","offset":-196,"values":[0,50,100],"tickSize":2,"labelFontSize":5.3,"labelPadding":1.5,"title":"PCA axis","titleFontSize":5.5,"titlePadding":2.5}},
       "x2":{"datum":132},
       "y":{"datum":-4,"type":"quantitative","scale":{"domain":[-4,104],"range":[62,15],"nice":false,"zero":false},"axis":{"orient":"left","offset":-31,"values":[0,50,100],"tickSize":2,"labelAngle":-90,"labelAlign":"center","labelBaseline":"bottom","labelFontSize":5.3,"labelPadding":1,"title":"Cumulated variance (%)","titleFontSize":5.3,"titlePadding":4.5}},
       "y2":{"datum":104}}},
     {"data":{"name":"cumB"},"mark":{"type":"area","color":"#d3d3d3"},
      "encoding":{"x":{"field":"x","type":"quantitative","scale":{"domain":[-4,132],"range":[31,80],"nice":false,"zero":false}},"y":{"field":"y","type":"quantitative","scale":{"domain":[-4,104],"range":[62,15],"nice":false,"zero":false}},"y2":{"datum":0}}},
     {"data":{"name":"cumBk"},"mark":{"type":"area","color":"black"},
      "encoding":{"x":{"field":"x","type":"quantitative","scale":{"domain":[-4,132],"range":[31,80],"nice":false,"zero":false}},"y":{"field":"y","type":"quantitative","scale":{"domain":[-4,104],"range":[62,15],"nice":false,"zero":false}},"y2":{"datum":0}}}
   ]}
  ],
  "resolve":{"scale":{"x":"independent","y":"independent"}}
 },
 {
  "width":318,"height":181,
  "title":{"text":"c)","anchor":"start","frame":"group","orient":"top","offset":0,"dx":-44,"dy":24,"baseline":"alphabetic","fontSize":11.5,"color":"#111"},
  "layer":[
   {"layer":[
     {"data":{"values":[{}]},"mark":{"type":"rule","color":"#cfcfcf","strokeDash":[2,2],"strokeWidth":1},"encoding":{"y":{"datum":0,"type":"quantitative","scale":{"domain":[-25.9,20.8],"nice":false,"zero":false}}}},
     {"data":{"values":[{}]},"mark":{"type":"rule","color":"#cfcfcf","strokeDash":[2,2],"strokeWidth":1},"encoding":{"x":{"datum":0,"type":"quantitative","scale":{"domain":[-34.2,35.1],"nice":false,"zero":false}}}},
     {"data":{"name":"ptsC"},"mark":{"type":"circle","size":50,"opacity":0.85},
      "encoding":{
       "x":{"field":"x","type":"quantitative","scale":{"domain":[-34.2,35.1],"nice":false,"zero":false},"axis":{"title":"PC1 (1.2%)","values":[-30,-20,-10,0,10,20,30],"tickSize":5,"labelPadding":4,"titlePadding":9,"labelFontSize":8,"titleFontSize":9.5}},
       "y":{"field":"y","type":"quantitative","scale":{"domain":[-25.9,20.8],"nice":false,"zero":false},"axis":{"title":"PC2 (1.2%)","values":[-20,-10,0,10,20],"tickSize":5,"labelPadding":3,"labelAngle":-90,"labelAlign":"center","labelBaseline":"bottom","titlePadding":8,"labelFontSize":8,"titleFontSize":9.5}},
       "color":{"field":"g","type":"nominal","scale":{"domain":["IBS","MBS","IBW","MBW","GB","EG"],"range":["#5ccf5c","#2e742e","#a2d0da","#2d2d92","#e35555","#bf62f0"]},"legend":{"title":null,"labelExpr":"{'IBS':'Ipswich Bay – Spring','MBS':'Mass. Bay – Spring','IBW':'Ipswich Bay – Winter','MBW':'Mass. Bay – Winter','GB':'Georges Bank','EG':'Eastern GoM'}[datum.label]"}}
      }}
   ]},
   {"layer":[
     {"data":{"values":[{}]},"mark":{"type":"rect","fill":"white","stroke":"#333","strokeWidth":0.8},
      "encoding":{"x":{"datum":0.3,"type":"quantitative","scale":{"domain":[0.3,26.7],"range":[2.7,72.7],"nice":false,"zero":false},"axis":null},"x2":{"datum":26.7},"y":{"datum":0,"type":"quantitative","scale":{"domain":[0,112],"range":[179,134.7],"nice":false,"zero":false},"axis":null},"y2":{"datum":112}}},
     {"data":{"name":"eigC"},"mark":{"type":"bar","orient":"vertical","width":2.1,"stroke":"black","strokeWidth":0.6},
      "encoding":{"x":{"field":"i","type":"quantitative","scale":{"domain":[0.3,26.7],"range":[2.7,72.7],"nice":false,"zero":false},"axis":null},"y":{"field":"v","type":"quantitative","scale":{"domain":[0,112],"range":[179,134.7],"nice":false,"zero":false},"axis":null},"y2":{"datum":0},"fill":{"condition":{"test":"datum.r == 1","value":"black"},"value":"white"}}},
     {"data":{"values":[{}]},"mark":{"type":"text","text":"Eigenvalues","align":"right","baseline":"middle","fontSize":7,"color":"#111"},
      "encoding":{"x":{"datum":26.3,"type":"quantitative","scale":{"domain":[0.3,26.7],"range":[2.7,72.7],"nice":false,"zero":false},"axis":null},"y":{"datum":103,"type":"quantitative","scale":{"domain":[0,112],"range":[179,134.7],"nice":false,"zero":false},"axis":null}}}
   ]}
  ],
  "resolve":{"scale":{"x":"independent","y":"independent"}}
 },
 {
  "width":280,"height":203,
  "title":{"text":"d)","anchor":"start","frame":"group","orient":"top","offset":0,"dx":-20,"dy":24,"baseline":"alphabetic","fontSize":11.5,"color":"#111"},
  "layer":[
   {"layer":[
     {"data":{"values":[{}]},"mark":{"type":"rule","color":"#666","strokeWidth":1},"encoding":{"y":{"datum":0,"type":"quantitative","scale":{"domain":[-10.15,10.15],"nice":false,"zero":false}}}},
     {"data":{"values":[{}]},"mark":{"type":"rule","color":"#666","strokeWidth":1},"encoding":{"x":{"datum":0,"type":"quantitative","scale":{"domain":[-14,14],"nice":false,"zero":false}}}},
     {"data":{"name":"ptsD"},"mark":{"type":"circle","size":50,"opacity":0.85},
      "encoding":{
       "x":{"field":"x","type":"quantitative","scale":{"domain":[-14,14],"nice":false,"zero":false},"axis":{"title":"Discriminant Function 1","ticks":false,"labels":false,"titlePadding":3,"titleFontSize":10}},
       "y":{"field":"y","type":"quantitative","scale":{"domain":[-10.15,10.15],"nice":false,"zero":false},"axis":{"title":"Discriminant Function 2","ticks":false,"labels":false,"titlePadding":4,"titleFontSize":10}},
       "color":{"field":"g","type":"nominal","scale":{"domain":["IBS","MBS","IBW","MBW","GB","EG"],"range":["#5ccf5c","#2e742e","#a2d0da","#2d2d92","#e35555","#bf62f0"]},"legend":{"title":null,"labelExpr":"{'IBS':'Ipswich Bay – Spring','MBS':'Mass. Bay – Spring','IBW':'Ipswich Bay – Winter','MBW':'Mass. Bay – Winter','GB':'Georges Bank','EG':'Eastern GoM'}[datum.label]"}}
      }},
     {"data":{"name":"ellD"},"mark":{"type":"line","interpolate":"cardinal-closed","strokeWidth":1},
      "encoding":{
       "x":{"field":"x","type":"quantitative","scale":{"domain":[-14,14],"nice":false,"zero":false}},
       "y":{"field":"y","type":"quantitative","scale":{"domain":[-10.15,10.15],"nice":false,"zero":false}},
       "order":{"field":"i","type":"quantitative"},
       "color":{"field":"g","type":"nominal","scale":{"domain":["IBS","MBS","IBW","MBW","GB","EG"],"range":["#5ccf5c","#2e742e","#a2d0da","#2d2d92","#e35555","#bf62f0"]},"legend":null}
      }}
   ]},
   {"layer":[
     {"data":{"values":[{}]},"mark":{"type":"rect","fill":"white","stroke":"#333","strokeWidth":0.8},
      "encoding":{
       "x":{"datum":-4,"type":"quantitative","scale":{"domain":[-4,132],"range":[30.3,80.3],"nice":false,"zero":false},"axis":{"orient":"bottom","offset":-150.3,"values":[0,50,100],"tickSize":2,"labelFontSize":5.3,"labelPadding":1.5,"title":"PCA axis","titleFontSize":5.5,"titlePadding":2.5}},
       "x2":{"datum":132},
       "y":{"datum":-4,"type":"quantitative","scale":{"domain":[-4,104],"range":[52.7,15],"nice":false,"zero":false},"axis":{"orient":"left","offset":-30.3,"values":[0,50,100],"tickSize":2,"labelAngle":-90,"labelAlign":"center","labelBaseline":"bottom","labelFontSize":5.3,"labelPadding":1,"title":"Cumulated variance (%)","titleFontSize":5.3,"titlePadding":4.5}},
       "y2":{"datum":104}}},
     {"data":{"name":"cumD"},"mark":{"type":"area","color":"#d3d3d3"},
      "encoding":{"x":{"field":"x","type":"quantitative","scale":{"domain":[-4,132],"range":[30.3,80.3],"nice":false,"zero":false}},"y":{"field":"y","type":"quantitative","scale":{"domain":[-4,104],"range":[52.7,15],"nice":false,"zero":false}},"y2":{"datum":0}}},
     {"data":{"name":"cumDk"},"mark":{"type":"area","color":"black"},
      "encoding":{"x":{"field":"x","type":"quantitative","scale":{"domain":[-4,132],"range":[30.3,80.3],"nice":false,"zero":false}},"y":{"field":"y","type":"quantitative","scale":{"domain":[-4,104],"range":[52.7,15],"nice":false,"zero":false}},"y2":{"datum":0}}}
   ]}
  ],
  "resolve":{"scale":{"x":"independent","y":"independent"}}
 }
]
}
